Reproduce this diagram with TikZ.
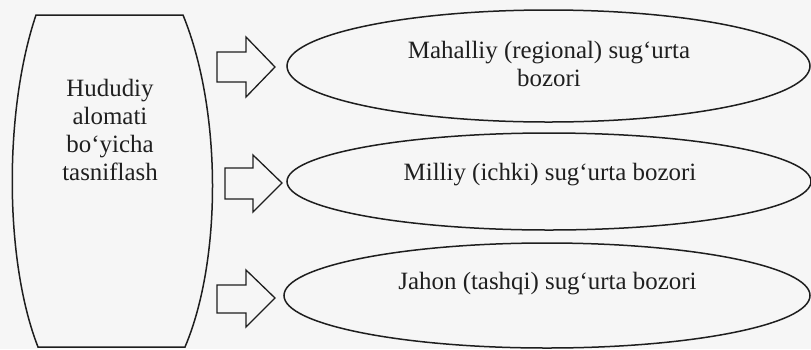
\documentclass[tikz,border=0pt]{standalone}
\usepackage{fontspec}
\setmainfont{Liberation Serif}
\usetikzlibrary{shapes.geometric}
\definecolor{ink}{HTML}{1E1E1E}
\definecolor{txtc}{HTML}{1F1F1F}
\definecolor{paper}{HTML}{F6F6F6}
\begin{document}
\begin{tikzpicture}[x=1bp,y=-1bp,
  lbl/.style={font=\fontsize{25}{28}\selectfont, text=txtc, inner sep=0pt, align=center},
  oval/.style={draw=ink, ellipse, line width=1.5bp, inner sep=0pt},
  outline/.style={draw=ink, line width=1.5bp},
  blockarr/.style={draw=ink, line width=1.3bp, line join=miter}]
\fill[paper] (0,0) rectangle (811,349);
\useasboundingbox (0,0) rectangle (811,349);

% left barrel-like box
\draw[outline] (36,15) -- (183,15)
  .. controls (222,110) and (222,260) .. (185,347) -- (38,347)
  .. controls (4,260) and (4,110) .. (36,15) -- cycle;
\node[lbl] (src) at (110,130) {Hududiy\\alomati\\bo‘yicha\\tasniflash};

% ellipses
\node[oval, minimum width=523bp, minimum height=112bp] (e1) at (548.5,66) {};
\node[oval, minimum width=524bp, minimum height=97bp] (e2) at (549,181.5) {};
\node[oval, minimum width=526bp, minimum height=105bp] (e3) at (547,295.5) {};

\node[lbl] (t1) at (549,64) {Mahalliy (regional) sug‘urta\\bozori};
\node[lbl, anchor=base] (t2) at (550,180) {Milliy (ichki) sug‘urta bozori};
\node[lbl, anchor=base] (t3) at (547.5,289) {Jahon (tashqi) sug‘urta bozori};

% block arrows
\draw[blockarr] (217,52) -- (246,52) -- (246,37) -- (275,67) -- (246,97) -- (246,82) -- (217,82) -- cycle;
\draw[blockarr] (225,168) -- (253,168) -- (253,155) -- (282,183) -- (253,212) -- (253,199) -- (225,199) -- cycle;
\draw[blockarr] (217,285) -- (246,285) -- (246,270) -- (275,298) -- (246,327) -- (246,313) -- (217,313) -- cycle;
\end{tikzpicture}
\end{document}
